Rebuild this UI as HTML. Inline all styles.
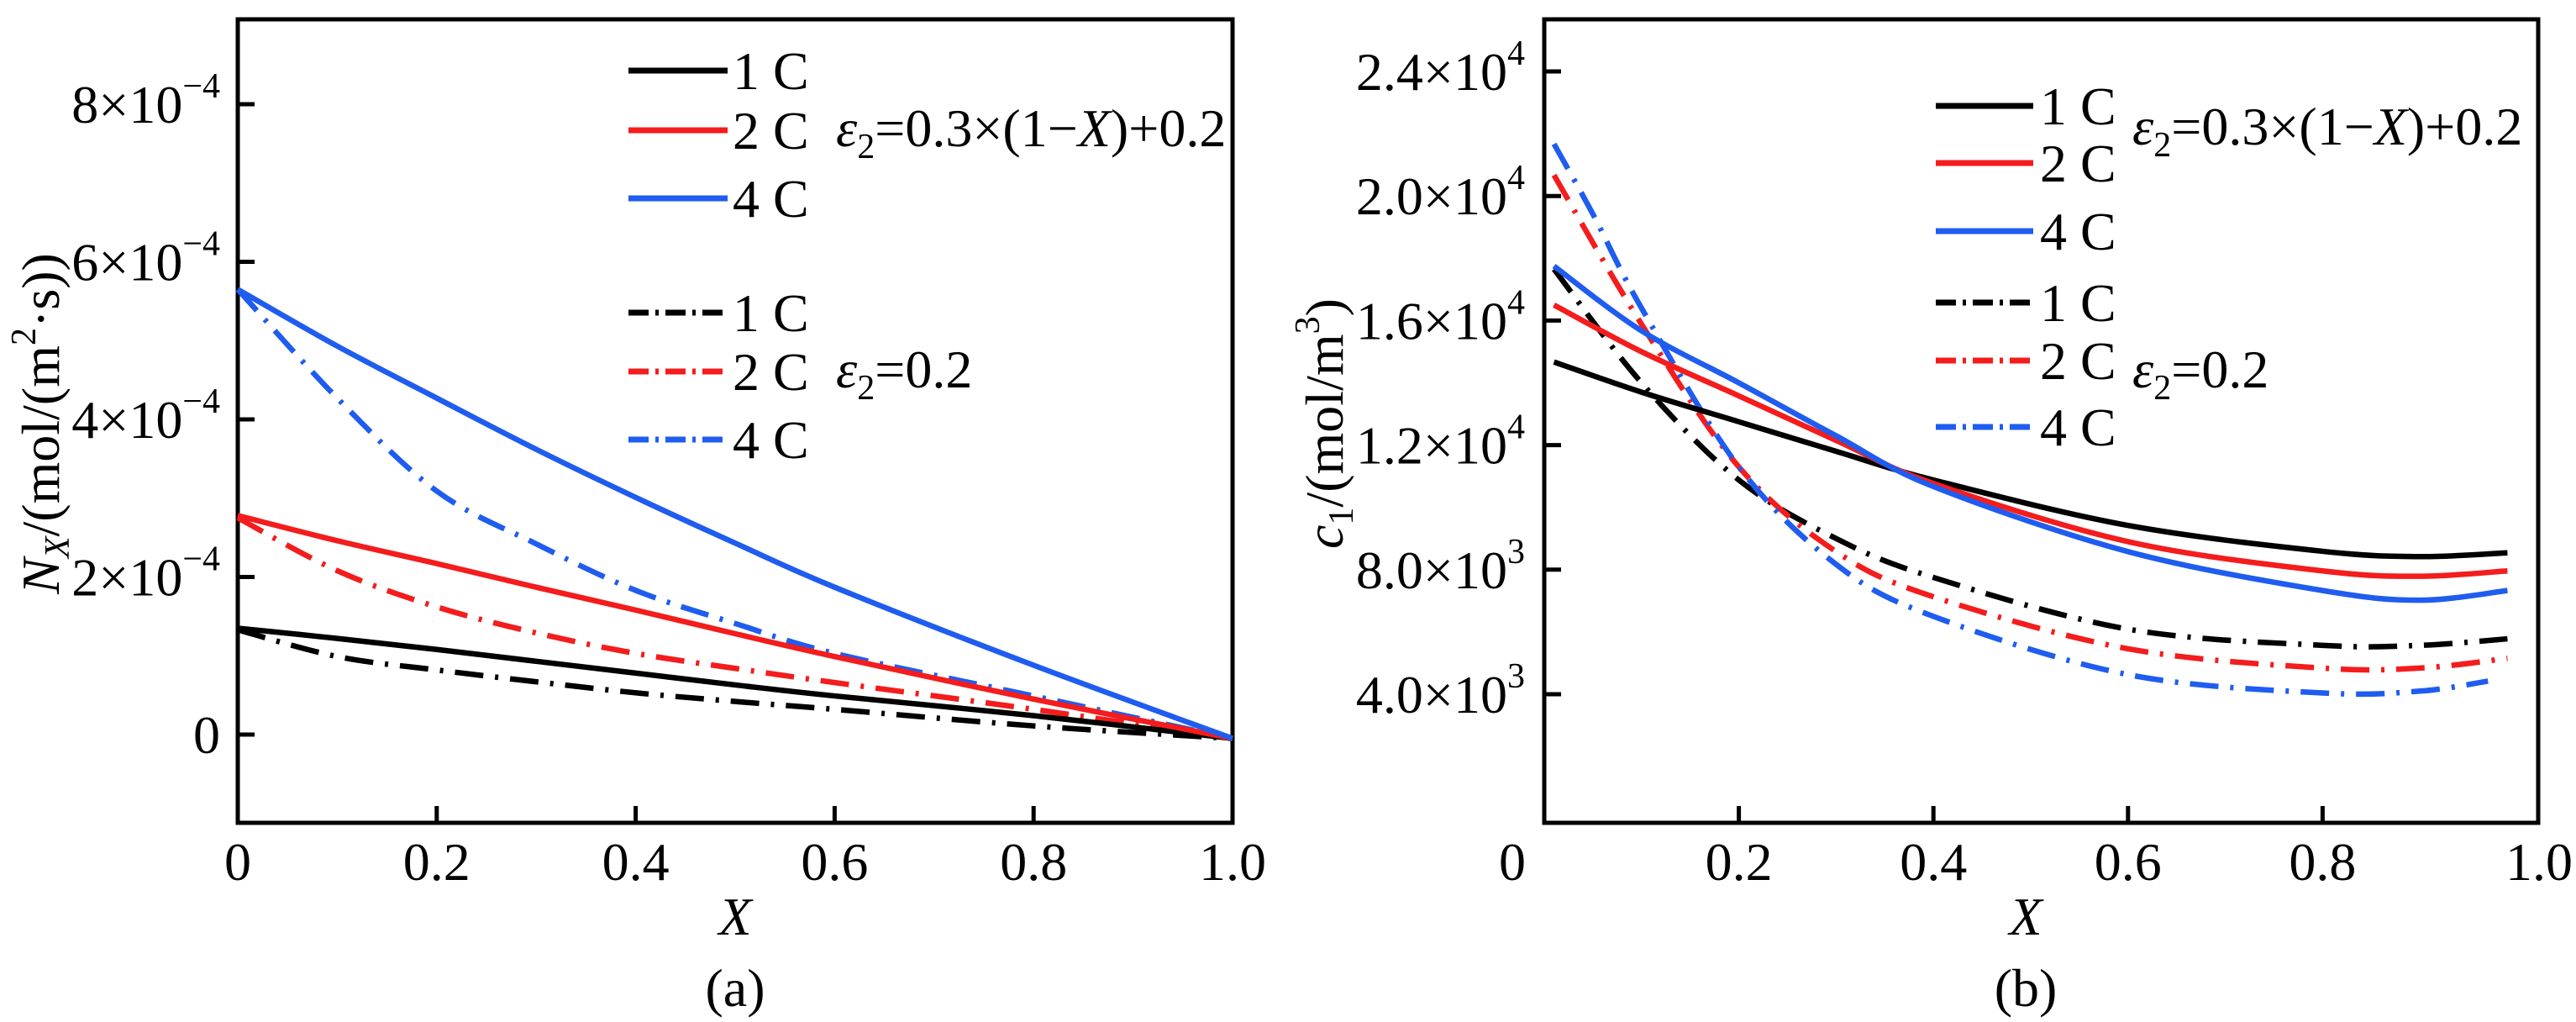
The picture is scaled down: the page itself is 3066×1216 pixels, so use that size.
<!DOCTYPE html>
<html><head><meta charset="utf-8"><style>
html,body{margin:0;padding:0;background:#fff;}
svg{display:block;}
svg text{font-family:"Liberation Serif","Times New Roman",serif;}
</style></head><body>
<svg id="s" width="3066" height="1216" viewBox="0 0 3066 1216"></svg>
<script>
// Panel (a) data: N_X (×1e-4)
const xA = [0, 0.1, 0.2, 0.3, 0.4, 0.5, 0.6, 0.8, 1.0];
const aSolid1 = [1.35, 1.22, 1.08, 0.93, 0.78, 0.63, 0.49, 0.24, -0.05];
const aSolid2 = [2.78, 2.46, 2.17, 1.87, 1.58, 1.28, 0.99, 0.45, -0.05];
const aSolid4 = [5.65, 4.93, 4.27, 3.62, 3.01, 2.43, 1.87, 0.88, -0.05];
const aDash1 = [1.33, 0.99, 0.82, 0.67, 0.53, 0.42, 0.32, 0.11, -0.05];
const aDash2 = [2.75, 2.08, 1.62, 1.29, 1.03, 0.84, 0.66, 0.32, -0.05];
const aDash4 = [5.65, 4.27, 3.09, 2.42, 1.83, 1.41, 1.03, 0.49, -0.05];
const aYTicks = [0, 2, 4, 6, 8];
const aXTicks = [0, 0.2, 0.4, 0.6, 0.8, 1.0];
const aXTickLabels = ["0", "0.2", "0.4", "0.6", "0.8", "1.0"];
// Panel (b) data: c1 (mol/m3)
const xB = [0.01, 0.1, 0.2, 0.3, 0.4, 0.6, 0.8, 0.9, 0.99];
const bSolid1 = [14670, 13700, 12750, 11800, 10880, 9420, 8590, 8420, 8540];
const bSolid2 = [16500, 15000, 13580, 12150, 10770, 8900, 7960, 7790, 7960];
const bSolid4 = [17750, 15670, 14000, 12300, 10670, 8580, 7330, 7020, 7330];
const bDash1 = [17650, 14000, 10880, 9000, 7750, 6090, 5570, 5570, 5780];
const bDash2 = [20670, 15880, 11300, 8580, 7130, 5460, 4840, 4840, 5150];
const xB4 = [0.01, 0.05, 0.1, 0.2, 0.3, 0.4, 0.6, 0.8, 0.9, 0.97];
const bDash4 = [21670, 19420, 16400, 11300, 8170, 6500, 4630, 4040, 4100, 4420];
const bYTicks = [4000, 8000, 12000, 16000, 20000, 24000];
const bYTickLabels = ["4.0", "8.0", "1.2", "1.6", "2.0", "2.4"];
const bYTickExp = ["3", "3", "4", "4", "4", "4"];
const bXTicks = [0.2, 0.4, 0.6, 0.8];

const NS = "http://www.w3.org/2000/svg";
const svg = document.getElementById('s');
const FF = '"Liberation Serif","Times New Roman",serif';
const FS = 64;
function mk(tag, attrs, parent){ const e=document.createElementNS(NS,tag); for(const k in attrs) e.setAttribute(k,attrs[k]); if(tag==='text'){ e.setAttribute('font-family',FF); } (parent||svg).appendChild(e); return e; }

const A = {x0:283, x1:1467, y0:23, y1:979};
const axA = v => 283 + v*1184;
const ayA = v => 874 - v*93.75;
const B = {x0:1838, x1:3021, y0:23, y1:979};
const axB = v => 1838 + v*1158;
const ayB = v => 826 - (v-4000)*148.2/4000;

function pathD(xs, ys, fx, fy){
  const p = xs.map((x,i)=>[fx(x), fy(ys[i])]);
  let d = `M${p[0][0]},${p[0][1]}`;
  for(let i=0;i<p.length-1;i++){
    const p0=p[i-1]||p[i], p1=p[i], p2=p[i+1], p3=p[i+2]||p2;
    const c1x=p1[0]+(p2[0]-p0[0])/6, c1y=p1[1]+(p2[1]-p0[1])/6;
    const c2x=p2[0]-(p3[0]-p1[0])/6, c2y=p2[1]-(p3[1]-p1[1])/6;
    d += ` C${c1x},${c1y} ${c2x},${c2y} ${p2[0]},${p2[1]}`;
  }
  return d;
}
const colors = {k:"#000", r:"#f41c1c", b:"#1f5cf0"};
const DASH = "34 14 4 14";

function frame(F, name){
  const r = mk('rect',{x:F.x0,y:F.y0,width:F.x1-F.x0,height:F.y1-F.y0,fill:'none',stroke:'#000','stroke-width':5});
  
  
}
function text(str, x, y, opts){
  const t = mk('text', Object.assign({x:x,y:y,'font-size':FS,fill:'#000'}, opts||{}));
  t.textContent = str;
  return t;
}
function series(xs, ys, fx, fy, col, dashed, name){
  const p = mk('path',{d:pathD(xs,ys,fx,fy),fill:'none',stroke:col,'stroke-width':6.5,'stroke-linejoin':'round'});
  if(dashed) p.setAttribute('stroke-dasharray', DASH);
  
  
}

// ---------- Panel A ----------
frame(A,'plot-frame-a');
aYTicks.forEach(v=>{
  const y=ayA(v);
  const l = mk('line',{x1:A.x0,x2:A.x0+20,y1:y,y2:y,stroke:'#000','stroke-width':5});
  
  
  const t = mk('text',{x:262,y:y+22,'font-size':FS,'text-anchor':'end'});
  
  
  if(v===0){ t.textContent='0'; }
  else { t.innerHTML = v+'×10<tspan dy="-30" font-size="42">−4</tspan>'; }
});
aXTicks.forEach((v,i)=>{
  const x=axA(v);
  if(i>0 && i<aXTicks.length-1){
    const l = mk('line',{x1:x,x2:x,y1:A.y1,y2:A.y1-20,stroke:'#000','stroke-width':5});
    
    
  }
  const t = text(aXTickLabels[i], x, 1047, {'text-anchor':'middle'});
  
  
});
series(xA,aDash1,axA,ayA,colors.k,true,'series-a-eps02-1c');
series(xA,aDash2,axA,ayA,colors.r,true,'series-a-eps02-2c');
series(xA,aDash4,axA,ayA,colors.b,true,'series-a-eps02-4c');
series(xA,aSolid1,axA,ayA,colors.k,false,'series-a-var-1c');
series(xA,aSolid2,axA,ayA,colors.r,false,'series-a-var-2c');
series(xA,aSolid4,axA,ayA,colors.b,false,'series-a-var-4c');

const legA = [[84,colors.k,false],[155,colors.r,false],[236,colors.b,false],[372,colors.k,true],[442,colors.r,true],[523,colors.b,true]];
const legLab = ["1 C","2 C","4 C","1 C","2 C","4 C"];
function legend(rows, lx0, lx1, tx, pfx){
  rows.forEach((r,i)=>{
    const l = mk('line',{x1:lx0,x2:lx1,y1:r[0],y2:r[0],stroke:r[1],'stroke-width':7});
    if(r[2]) l.setAttribute('stroke-dasharray','24 8 4 8');
    
    
    const t = text(legLab[i], tx, r[0]+22);
    
    
  });
}
legend(legA, 748, 866, 872, 'a');
function eq(x,y,name,rest){
  const t = mk('text',{x:x,y:y,'font-size':FS});
  t.innerHTML = '<tspan font-style="italic">ε</tspan><tspan font-size="42" dy="14">2</tspan><tspan dy="-14">'+rest+'</tspan>';
  
  
}
eq(995,174,'a-eq-variable','=0.3×(1−<tspan font-style="italic">X</tspan>)+0.2');
eq(995,461,'a-eq-constant','=0.2');

let t = mk('text',{x:0,y:0,'font-size':FS,'text-anchor':'middle',transform:'translate(70,504) rotate(-90)'});
t.innerHTML = '<tspan font-style="italic">N</tspan><tspan font-style="italic" font-size="42" dy="12">X</tspan><tspan dy="-12">/(mol/(m</tspan><tspan font-size="42" dy="-28">2</tspan><tspan dy="28">·s))</tspan>';


t = text('X', 875, 1112, {'text-anchor':'middle','font-style':'italic'});


t = text('(a)', 875, 1197, {'text-anchor':'middle'});



// ---------- Panel B ----------
frame(B,'plot-frame-b');
bYTicks.forEach((v,i)=>{
  const y=ayB(v);
  const l = mk('line',{x1:B.x0,x2:B.x0+20,y1:y,y2:y,stroke:'#000','stroke-width':5});
  
  
  const tt = mk('text',{x:1815,y:y+22,'font-size':FS,'text-anchor':'end'});
  tt.innerHTML = bYTickLabels[i]+'×10<tspan dy="-30" font-size="42">'+bYTickExp[i]+'</tspan>';
  
  
});
bXTicks.forEach(v=>{
  const x=axB(v);
  const l = mk('line',{x1:x,x2:x,y1:B.y1,y2:B.y1-20,stroke:'#000','stroke-width':5});
  
  
  const tt = text(String(v), x, 1047, {'text-anchor':'middle'});
  
  
});
t = text('0', 1800, 1047, {'text-anchor':'middle'});


t = text('1.0', 3022, 1047, {'text-anchor':'middle'});



series(xB,bDash1,axB,ayB,colors.k,true,'series-b-eps02-1c');
series(xB,bDash2,axB,ayB,colors.r,true,'series-b-eps02-2c');
series(xB4,bDash4,axB,ayB,colors.b,true,'series-b-eps02-4c');
series(xB,bSolid1,axB,ayB,colors.k,false,'series-b-var-1c');
series(xB,bSolid2,axB,ayB,colors.r,false,'series-b-var-2c');
series(xB,bSolid4,axB,ayB,colors.b,false,'series-b-var-4c');

const legB = [[126,colors.k,false],[194,colors.r,false],[275,colors.b,false],[360,colors.k,true],[429,colors.r,true],[508,colors.b,true]];
legend(legB, 2304, 2420, 2428, 'b');
eq(2538,172,'b-eq-variable','=0.3×(1−<tspan font-style="italic">X</tspan>)+0.2');
eq(2538,461,'b-eq-constant','=0.2');

t = mk('text',{x:0,y:0,'font-size':FS,'text-anchor':'middle',transform:'translate(1598,504) rotate(-90)'});
t.innerHTML = '<tspan font-style="italic">c</tspan><tspan font-size="42" dy="12">1</tspan><tspan dy="-12">/(mol/m</tspan><tspan font-size="42" dy="-28">3</tspan><tspan dy="28">)</tspan>';


t = text('X', 2411, 1112, {'text-anchor':'middle','font-style':'italic'});


t = text('(b)', 2411, 1197, {'text-anchor':'middle'});


</script>
</body></html>
